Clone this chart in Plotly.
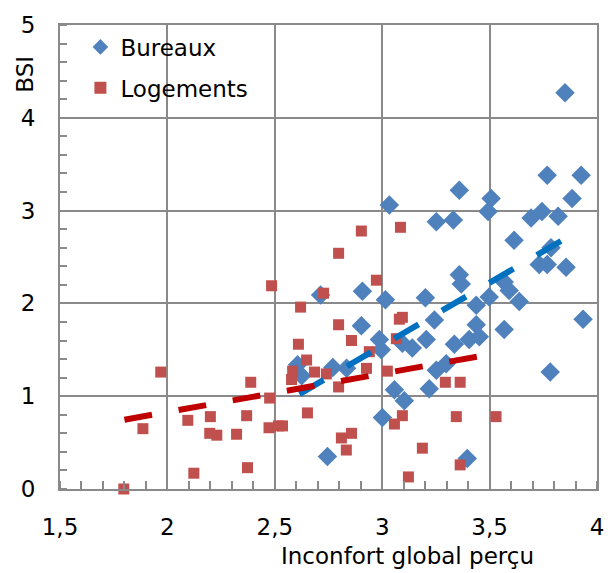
import numpy as np
import plotly.graph_objects as go

# ---- data ----
bureaux_x = [3.851, 3.768, 3.926, 3.884, 3.359, 3.033, 3.507, 3.493, 3.252, 3.331,
             3.693, 3.744, 3.819, 3.614, 3.786, 3.731, 3.768, 3.856, 3.359, 3.368,
             3.568, 3.591, 3.638, 3.498, 3.568, 3.935, 3.782, 2.713, 2.908, 3.015,
             3.201, 3.438, 3.243, 3.438, 2.903, 2.987, 2.996, 3.094, 3.140, 3.205,
             3.336, 3.405, 3.452, 3.252, 3.298, 3.219, 3.057, 3.103, 3.001, 2.745,
             3.396, 2.770, 2.834, 2.606, 2.625]
bureaux_y = [4.27, 3.38, 3.38, 3.13, 3.22, 3.06, 3.13, 2.99, 2.88, 2.90,
             2.92, 2.99, 2.94, 2.68, 2.60, 2.42, 2.42, 2.39, 2.31, 2.21,
             2.23, 2.14, 2.02, 2.07, 1.72, 1.83, 1.26, 2.09, 2.13, 2.04,
             2.06, 1.98, 1.82, 1.77, 1.76, 1.61, 1.50, 1.57, 1.52, 1.61,
             1.56, 1.61, 1.64, 1.28, 1.35, 1.08, 1.07, 0.95, 0.77, 0.35,
             0.33, 1.31, 1.30, 1.34, 1.22]

logements_x = [1.797, 1.886, 1.969, 2.095, 2.123, 2.200, 2.197, 2.230, 2.322, 2.373,
               2.369, 2.388, 2.476, 2.473, 2.517, 2.536, 2.485, 2.620, 2.727, 2.973,
               2.797, 2.610, 2.857, 2.648, 2.583, 2.578, 2.797, 2.927, 2.940, 3.024,
               3.066, 2.652, 2.810, 2.857, 2.833, 3.057, 2.903, 2.797, 3.085, 2.685,
               2.740, 3.080, 3.094, 3.094, 3.187, 3.122, 3.294, 3.363, 3.345, 3.363,
               3.530]
logements_y = [0.00, 0.65, 1.26, 0.74, 0.17, 0.78, 0.60, 0.58, 0.59, 0.23,
               0.79, 1.15, 0.98, 0.66, 0.68, 0.68, 2.19, 1.96, 2.11, 2.25,
               1.77, 1.56, 1.60, 1.39, 1.27, 1.18, 1.10, 1.30, 1.48, 1.27,
               1.62, 0.82, 0.55, 0.60, 0.42, 0.70, 2.78, 2.54, 2.82, 1.26,
               1.24, 1.83, 1.85, 0.79, 0.44, 0.13, 1.15, 1.15, 0.78, 0.26,
               0.78]

# linear trend lines (x extent, slope, intercept)
trend_bureaux_x = [2.615, 3.847]
trend_bureaux_coef = [1.355, -2.52]
trend_logements_x = [1.80, 3.45]
trend_logements_coef = [0.414, 0.001]

x_tick_vals = [1.5, 2, 2.5, 3, 3.5, 4]
x_tick_text = ["1,5", "2", "2,5", "3", "3,5", "4"]
y_tick_vals = [0, 1, 2, 3, 4, 5]
y_tick_text = ["0", "1", "2", "3", "4", "5"]

FONT = "DejaVu Sans"
GRID = "#8a8a8a"

def trend(xs, coef):
    xs = np.array(xs)
    return xs, coef[0] * xs + coef[1]

fig = go.Figure()
fig.add_trace(go.Scatter(
    x=bureaux_x, y=bureaux_y, mode="markers", name="Bureaux",
    marker=dict(symbol="diamond", size=15, color="#4F81BD"),
    cliponaxis=False, legendgroup="b"))
fig.add_trace(go.Scatter(
    x=logements_x, y=logements_y, mode="markers", name="Logements",
    marker=dict(symbol="square", size=11, color="#C0504D"),
    cliponaxis=False, legendgroup="l"))
tx, ty = trend(trend_bureaux_x, trend_bureaux_coef)
fig.add_trace(go.Scatter(x=tx, y=ty, mode="lines", showlegend=False,
                         line=dict(color="#0070C0", width=6, dash="28px,27px")))
tx, ty = trend(trend_logements_x, trend_logements_coef)
fig.add_trace(go.Scatter(x=tx, y=ty, mode="lines", showlegend=False,
                         line=dict(color="#C00000", width=6, dash="28px,27px")))

fig.update_layout(
    width=616, height=573,
    margin=dict(l=60, r=18, t=20, b=84),
    paper_bgcolor="white", plot_bgcolor="white",
    font=dict(family=FONT, size=23, color="black"),
    showlegend=True,
    legend=dict(x=0.038, y=0.999, xanchor="left", yanchor="top",
                bgcolor="rgba(0,0,0,0)", font=dict(size=23),
                traceorder="grouped", tracegroupgap=8,
                itemsizing="constant"),
    annotations=[
        dict(text="Inconfort global perçu", xref="paper", yref="paper",
             x=0.648, y=-0.145, xanchor="center", yanchor="middle",
             showarrow=False, font=dict(size=23)),
        dict(text="BSI", xref="paper", yref="paper",
             x=-0.065, y=0.893, xanchor="center", yanchor="middle",
             textangle=-90, showarrow=False, font=dict(size=23)),
    ],
)
fig.update_xaxes(
    range=[1.5, 4], tickvals=x_tick_vals, ticktext=x_tick_text,
    showgrid=True, gridcolor=GRID, gridwidth=2,
    showline=True, linecolor=GRID, linewidth=2, mirror=True,
    zeroline=False, ticks="", ticklabelstandoff=16,
    minor=dict(dtick=0.1, ticks="inside", ticklen=8, tickcolor=GRID,
               tickwidth=1.5, showgrid=False),
)
fig.update_yaxes(
    range=[0, 5], tickvals=y_tick_vals, ticktext=y_tick_text,
    showgrid=True, gridcolor=GRID, gridwidth=2,
    showline=True, linecolor=GRID, linewidth=2, mirror=True,
    zeroline=False, ticks="", ticklabelstandoff=18,
    minor=dict(dtick=0.2, ticks="inside", ticklen=7, tickcolor=GRID,
               tickwidth=1.5, showgrid=False),
)

fig.write_html("out.html")
